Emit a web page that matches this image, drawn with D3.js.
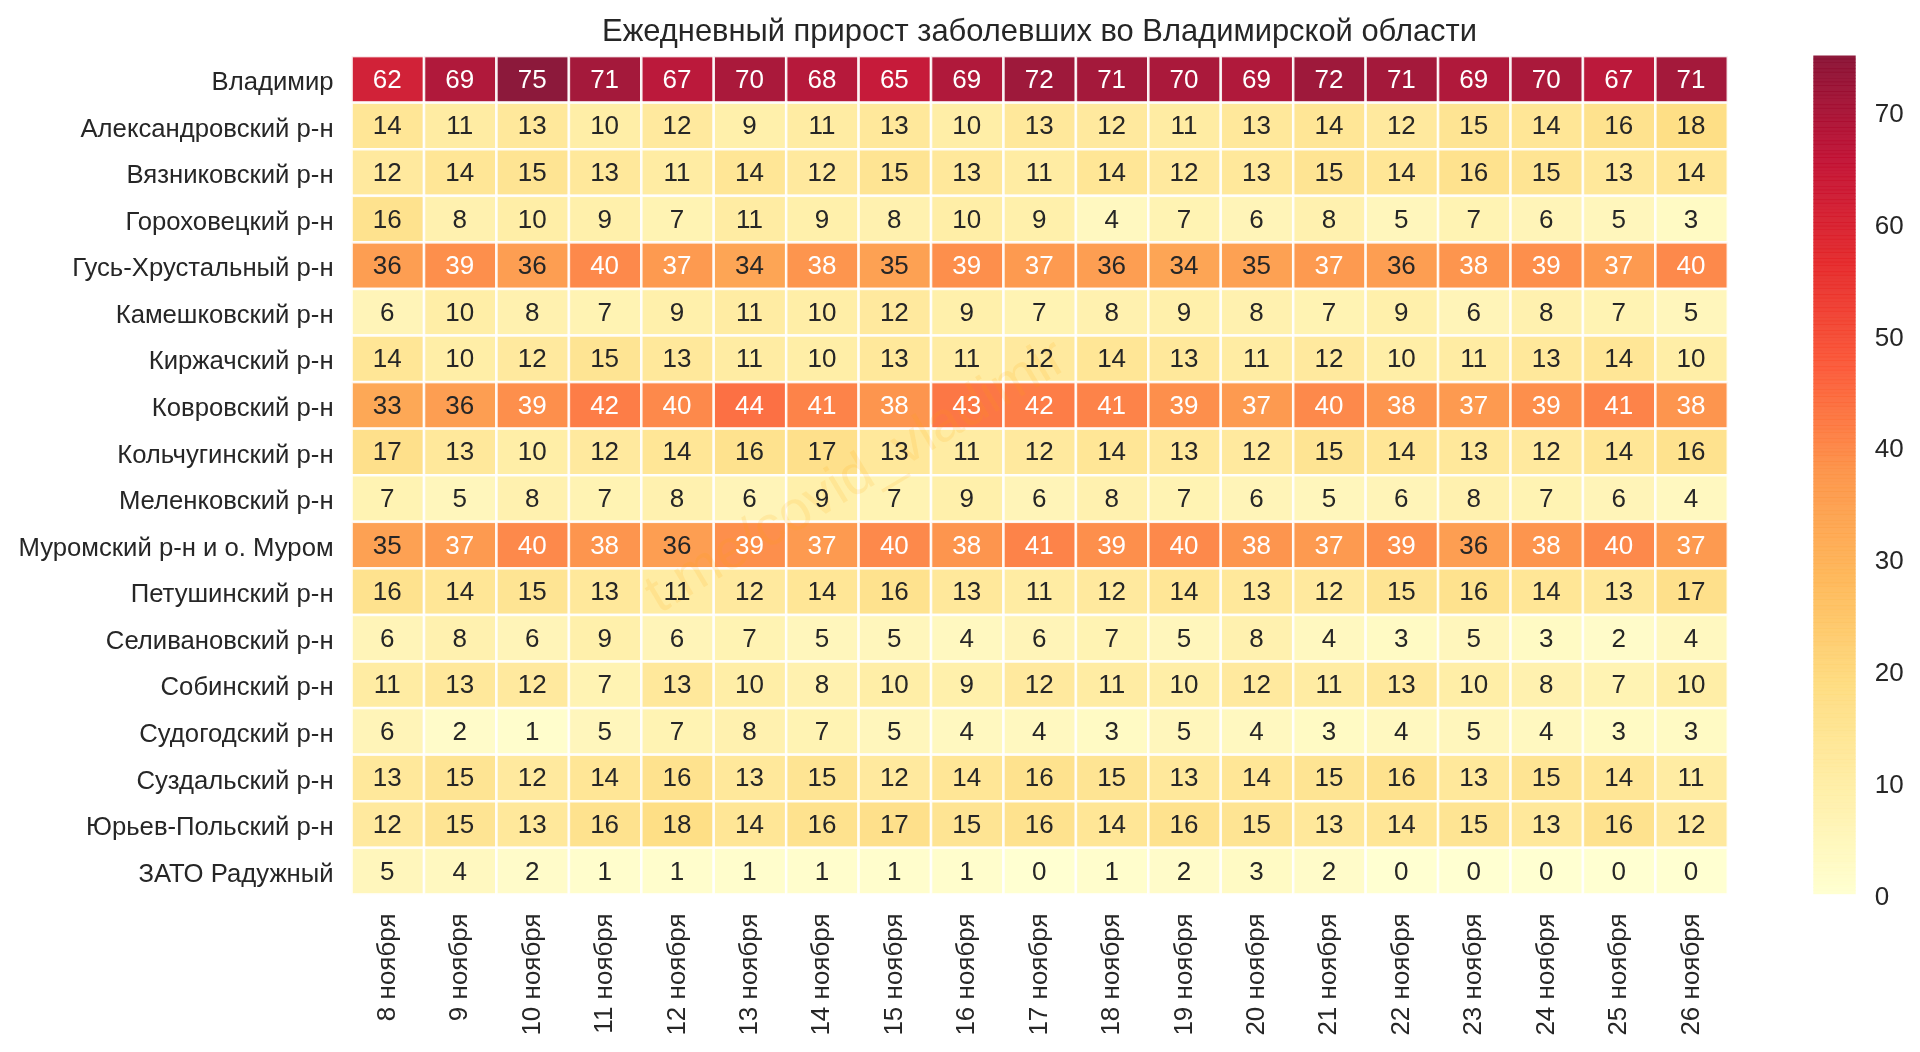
<!DOCTYPE html>
<html lang="ru"><head><meta charset="utf-8">
<script src="https://cdn.jsdelivr.net/npm/d3@7/dist/d3.min.js"></script>
<style>html,body{margin:0;padding:0;background:#fff;overflow:hidden}svg{display:block;filter:blur(.45px)}text{font-family:"Liberation Sans",Arial,sans-serif}</style>
</head><body><svg id="c" width="1920" height="1052"></svg>
<script>
const chartTitle = "Ежедневный прирост заболевших во Владимирской области";
const watermark = "t.me/covid_vladimir";
const districts = ["Владимир","Александровский р-н","Вязниковский р-н","Гороховецкий р-н","Гусь-Хрустальный р-н","Камешковский р-н","Киржачский р-н","Ковровский р-н","Кольчугинский р-н","Меленковский р-н","Муромский р-н и о. Муром","Петушинский р-н","Селивановский р-н","Собинский р-н","Судогодский р-н","Суздальский р-н","Юрьев-Польский р-н","ЗАТО Радужный"];
const days = ["8 ноября","9 ноября","10 ноября","11 ноября","12 ноября","13 ноября","14 ноября","15 ноября","16 ноября","17 ноября","18 ноября","19 ноября","20 ноября","21 ноября","22 ноября","23 ноября","24 ноября","25 ноября","26 ноября"];
const vladimir = [62,69,75,71,67,70,68,65,69,72,71,70,69,72,71,69,70,67,71];
const aleksandrov = [14,11,13,10,12,9,11,13,10,13,12,11,13,14,12,15,14,16,18];
const vyazniki = [12,14,15,13,11,14,12,15,13,11,14,12,13,15,14,16,15,13,14];
const gorokhovets = [16,8,10,9,7,11,9,8,10,9,4,7,6,8,5,7,6,5,3];
const gus = [36,39,36,40,37,34,38,35,39,37,36,34,35,37,36,38,39,37,40];
const kameshkovo = [6,10,8,7,9,11,10,12,9,7,8,9,8,7,9,6,8,7,5];
const kirzhach = [14,10,12,15,13,11,10,13,11,12,14,13,11,12,10,11,13,14,10];
const kovrov = [33,36,39,42,40,44,41,38,43,42,41,39,37,40,38,37,39,41,38];
const kolchugino = [17,13,10,12,14,16,17,13,11,12,14,13,12,15,14,13,12,14,16];
const melenki = [7,5,8,7,8,6,9,7,9,6,8,7,6,5,6,8,7,6,4];
const murom = [35,37,40,38,36,39,37,40,38,41,39,40,38,37,39,36,38,40,37];
const petushki = [16,14,15,13,11,12,14,16,13,11,12,14,13,12,15,16,14,13,17];
const selivanovo = [6,8,6,9,6,7,5,5,4,6,7,5,8,4,3,5,3,2,4];
const sobinka = [11,13,12,7,13,10,8,10,9,12,11,10,12,11,13,10,8,7,10];
const sudogda = [6,2,1,5,7,8,7,5,4,4,3,5,4,3,4,5,4,3,3];
const suzdal = [13,15,12,14,16,13,15,12,14,16,15,13,14,15,16,13,15,14,11];
const yuryev = [12,15,13,16,18,14,16,17,15,16,14,16,15,13,14,15,13,16,12];
const raduzhny = [5,4,2,1,1,1,1,1,1,0,1,2,3,2,0,0,0,0,0];
const rows = [vladimir,aleksandrov,vyazniki,gorokhovets,gus,kameshkovo,kirzhach,kovrov,kolchugino,melenki,murom,petushki,selivanovo,sobinka,sudogda,suzdal,yuryev,raduzhny];
const colorTicks = [0,10,20,30,40,50,60,70];

const ink = "#262626";
const svg = d3.select("#c");
const x = d3.scaleBand().domain(days).range([351.6,1727.8]);
const y = d3.scaleBand().domain(districts).range([56.1,894.4]);
const vmax = 75;
const stops = d3.schemeYlOrRd[9];
const color = d3.scaleLinear().domain(stops.map((_,i)=>i/(stops.length-1)*vmax)).range(stops).clamp(true);

const cells = rows.flatMap((r,i)=>r.map((v,j)=>({d:districts[i],t:days[j],v})));
svg.append("g").selectAll("rect").data(cells).join("rect")
  .attr("x",d=>x(d.t)).attr("y",d=>y(d.d))
  .attr("width",x.bandwidth()).attr("height",y.bandwidth())
  .attr("fill",d=>color(d.v)).attr("fill-opacity",.9)
  .attr("stroke","#fff").attr("stroke-opacity",.9).attr("stroke-width",2.5);

svg.append("text").text(watermark)
  .attr("transform","translate(857,478) rotate(-31)")
  .attr("text-anchor","middle").attr("dominant-baseline","middle")
  .attr("font-size",56).attr("fill","#ffa500").attr("fill-opacity",.13);

svg.append("g").selectAll("text").data(cells).join("text")
  .attr("x",d=>x(d.t)+x.bandwidth()/2-.5).attr("y",d=>y(d.d)+y.bandwidth()/2-.5)
  .attr("text-anchor","middle").attr("dominant-baseline","central")
  .attr("font-size",26).attr("fill",d=>d.v>=37?"#fff":ink).text(d=>d.v);

const yAxis = svg.append("g").attr("transform","translate(351.6,0)").call(d3.axisLeft(y).tickSize(0).tickPadding(18));
yAxis.select(".domain").remove();
yAxis.selectAll("text").attr("font-size",25.7).attr("fill",ink).attr("y",2.4).style("font-family",'"Liberation Sans"');

const xAxis = svg.append("g").attr("transform","translate(0,894.4)").call(d3.axisBottom(x).tickSize(0));
xAxis.select(".domain").remove();
xAxis.selectAll("text").attr("font-size",26).attr("fill",ink).style("font-family",'"Liberation Sans"')
  .attr("text-anchor","end").attr("dy",null).attr("y",null).attr("dominant-baseline","central")
  .attr("transform","translate(-2,19) rotate(-90)");

svg.append("text").text(chartTitle).attr("x",1039.5).attr("y",41)
  .attr("text-anchor","middle").attr("font-size",30.9).attr("fill",ink);

const cy = d3.scaleLinear().domain([0,vmax]).range([894.2,56]);
const levels = d3.range(256).map(i=>i/256*vmax);
const barStep = (cy(0)-cy(vmax))/256;
svg.append("g").selectAll("rect").data(levels).join("rect")
  .attr("x",1813.3).attr("width",42.4)
  .attr("y",d=>cy(d)-barStep-.5).attr("height",barStep+.5)
  .attr("fill",d=>color(d)).attr("fill-opacity",.9);

const cAxis = svg.append("g").attr("transform","translate(1855.7,1.5)").call(d3.axisRight(cy).tickValues(colorTicks).tickSize(0).tickPadding(19).tickFormat(d3.format("d")));
cAxis.select(".domain").remove();
cAxis.selectAll("text").attr("font-size",26).attr("fill",ink).style("font-family",'"Liberation Sans"');
</script></body></html>
